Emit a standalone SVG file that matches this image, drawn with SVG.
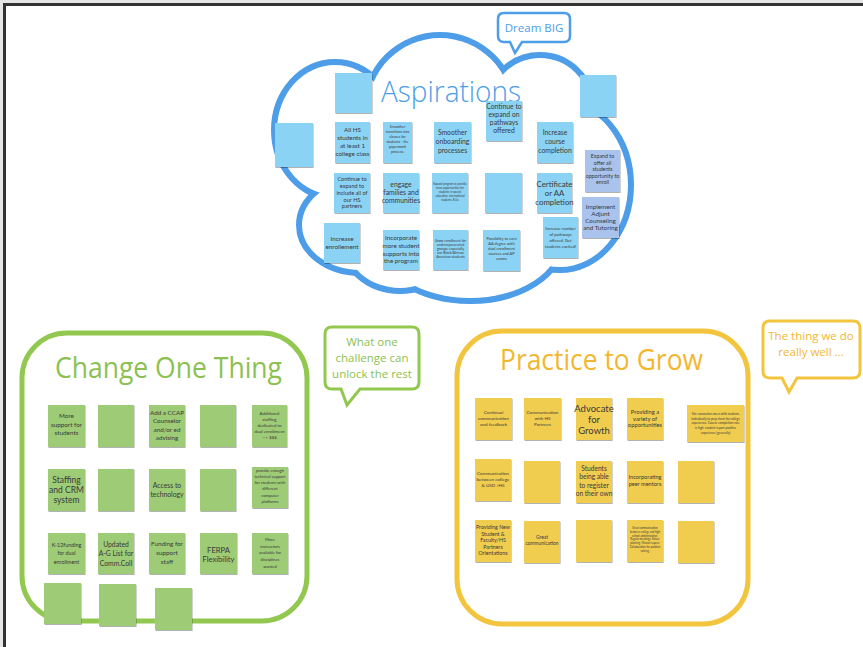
<svg xmlns="http://www.w3.org/2000/svg" width="863" height="647" viewBox="0 0 863 647">
<defs>
<filter id="sh" x="-20%" y="-20%" width="150%" height="150%"><feDropShadow dx="0.6" dy="1" stdDeviation="0.7" flood-color="#000" flood-opacity="0.3"/></filter>
<style>
.nb{fill:#8bd3f4;filter:url(#sh)}
.nl{fill:#a9c3ec;filter:url(#sh)}
.ng{fill:#9dcb76;filter:url(#sh)}
.ny{fill:#f1cd50;filter:url(#sh)}
.t{font-family:Lato,"Open Sans",sans-serif;fill:#3a3a3a;text-anchor:middle}
.cs{fill:none;stroke:#4d9de8;stroke-width:12}
.cf{fill:#fff}
.title{font-family:"Open Sans",sans-serif;font-weight:400;text-anchor:start}
.co{font-family:"Open Sans",sans-serif;text-anchor:middle;font-size:11.5px}
</style>
</defs>
<rect x="0" y="0" width="863" height="647" fill="#e6e6e6"/>
<rect x="6" y="6" width="857" height="641" fill="#fff"/>
<path d="M4.5,647 V4.5 H863" fill="none" stroke="#333" stroke-width="3"/>

<g id="cloud">
<g class="cs">
<ellipse cx="335" cy="130" rx="58" ry="65"/>
<ellipse cx="360" cy="225" rx="58" ry="45"/>
<circle cx="440" cy="110" r="72"/>
<circle cx="540" cy="108" r="50"/>
<ellipse cx="560" cy="185" rx="68" ry="82"/>
<ellipse cx="470" cy="240" rx="90" ry="58"/>
<ellipse cx="400" cy="240" rx="55" ry="48"/>
</g>
<g class="cf">
<ellipse cx="335" cy="130" rx="58" ry="65"/>
<ellipse cx="360" cy="225" rx="58" ry="45"/>
<circle cx="440" cy="110" r="72"/>
<circle cx="540" cy="108" r="50"/>
<ellipse cx="560" cy="185" rx="68" ry="82"/>
<ellipse cx="470" cy="240" rx="90" ry="58"/>
<ellipse cx="400" cy="240" rx="55" ry="48"/>
<rect x="330" y="110" width="250" height="140"/>
</g>
<text class="title" x="381" y="102" font-size="30" fill="#4d9de8" style="font-weight:300" textLength="140" lengthAdjust="spacingAndGlyphs">Aspirations</text>
</g>

<g id="dream-big">
<path d="M504,13 H564 Q570,13 570,19 V36 Q570,42 564,42 H522 L515,53 L510,42 H504 Q498,42 498,36 V19 Q498,13 504,13 Z" fill="#fff" stroke="#4d9de8" stroke-width="2.5"/>
<text class="co" x="534" y="32" fill="#4d9de8">Dream BIG</text>
</g>

<g id="blue-notes">
<g id="b1"><rect class="nb" x="335" y="73" width="37" height="40"/></g>
<g id="b2"><rect class="nb" x="275" y="123" width="38" height="44"/></g>
<g id="b3"><rect class="nb" x="580" y="75" width="36" height="42"/></g>
<g id="b4"><rect class="nb" x="335" y="122" width="35" height="41"/>
<text class="t" font-size="6.3"><tspan x="352.5" y="132">All HS</tspan><tspan x="352.5" y="140">students in</tspan><tspan x="352.5" y="148">at least 1</tspan><tspan x="352.5" y="155.5">college class</tspan></text></g>
<g id="b5"><rect class="nb" x="383" y="122" width="29" height="41"/>
<text class="t" font-size="3.6"><tspan x="397.5" y="128">Smoother</tspan><tspan x="397.5" y="133">transitions into</tspan><tspan x="397.5" y="138">classes for</tspan><tspan x="397.5" y="143">students - the</tspan><tspan x="397.5" y="148">paperwork</tspan><tspan x="397.5" y="153">process.</tspan></text></g>
<g id="b6"><rect class="nb" x="434" y="122" width="37" height="41"/>
<text class="t" font-size="6.8"><tspan x="452.5" y="135">Smoother</tspan><tspan x="452.5" y="144">onboarding</tspan><tspan x="452.5" y="152.5">processes</tspan></text></g>
<g id="b7"><rect class="nb" x="486" y="101" width="36" height="40"/>
<text class="t" font-size="6.8"><tspan x="504" y="109">Continue to</tspan><tspan x="504" y="117">expand on</tspan><tspan x="504" y="125">pathways</tspan><tspan x="504" y="133">offered</tspan></text></g>
<g id="b8"><rect class="nb" x="537" y="122" width="36" height="41"/>
<text class="t" font-size="6.8"><tspan x="555" y="135">Increase</tspan><tspan x="555" y="144">course</tspan><tspan x="555" y="152.5">completion</tspan></text></g>
<g id="b9"><rect class="nb" x="334" y="173" width="36" height="40"/>
<text class="t" font-size="5.6"><tspan x="352" y="181">Continue to</tspan><tspan x="352" y="188">expand to</tspan><tspan x="352" y="195">include all of</tspan><tspan x="352" y="201.5">our HS</tspan><tspan x="352" y="208">partners</tspan></text></g>
<g id="b10"><rect class="nb" x="383" y="173" width="36" height="40"/>
<text class="t" font-size="6.8"><tspan x="401" y="187">engage</tspan><tspan x="401" y="195">families and</tspan><tspan x="401" y="202.5">communities</tspan></text></g>
<g id="b11"><rect class="nb" x="432" y="173" width="36" height="40"/>
<text class="t" font-size="2.8"><tspan x="450" y="185">Expand program to provide</tspan><tspan x="450" y="189">more opportunities for</tspan><tspan x="450" y="193">students in special</tspan><tspan x="450" y="197">education, international</tspan><tspan x="450" y="201">students, ELLs</tspan></text></g>
<g id="b12"><rect class="nb" x="485" y="173" width="37" height="40"/></g>
<g id="b13"><rect class="nb" x="537" y="173" width="35" height="40"/>
<text class="t" font-size="7.8"><tspan x="554.5" y="187">Certificate</tspan><tspan x="554.5" y="196">or AA</tspan><tspan x="554.5" y="205">completion</tspan></text></g>
<g id="l1"><rect class="nl" x="585" y="150" width="35" height="42"/>
<text class="t" font-size="5.3"><tspan x="602.5" y="158">Expand to</tspan><tspan x="602.5" y="164.5">offer all</tspan><tspan x="602.5" y="171">students</tspan><tspan x="602.5" y="177.5">opportunity to</tspan><tspan x="602.5" y="184">enroll</tspan></text></g>
<g id="l2"><rect class="nl" x="582" y="197" width="37" height="41"/>
<text class="t" font-size="6.3"><tspan x="600.5" y="209">Implement</tspan><tspan x="600.5" y="216">Adjunt</tspan><tspan x="600.5" y="223">Counseling</tspan><tspan x="600.5" y="230">and Tutoring</tspan></text></g>
<g id="b14"><rect class="nb" x="324" y="223" width="36" height="40"/>
<text class="t" font-size="6.3"><tspan x="342" y="241">Increase</tspan><tspan x="342" y="249">enrollement</tspan></text></g>
<g id="b15"><rect class="nb" x="383" y="230" width="36" height="40"/>
<text class="t" font-size="6.3"><tspan x="401" y="240">Incorporate</tspan><tspan x="401" y="248">more student</tspan><tspan x="401" y="255.5">supports into</tspan><tspan x="401" y="263">the program</tspan></text></g>
<g id="b16"><rect class="nb" x="433" y="230" width="35" height="40"/>
<text class="t" font-size="3.5"><tspan x="450.5" y="241.5">Grow enrollment for</tspan><tspan x="450.5" y="245.7">underrepresented</tspan><tspan x="450.5" y="249.9">groups, especially</tspan><tspan x="450.5" y="254.1">our Black/African</tspan><tspan x="450.5" y="258.3">American students</tspan></text></g>
<g id="b17"><rect class="nb" x="483" y="230" width="37" height="41"/>
<text class="t" font-size="3.9"><tspan x="501.5" y="239.5">Possibility to earn</tspan><tspan x="501.5" y="244.5">AA degree with</tspan><tspan x="501.5" y="249.5">dual enrollment</tspan><tspan x="501.5" y="254.5">courses and AP</tspan><tspan x="501.5" y="259.5">exams</tspan></text></g>
<g id="b18"><rect class="nb" x="543" y="217" width="35" height="41"/>
<text class="t" font-size="4.2"><tspan x="560.5" y="229.5">Increase number</tspan><tspan x="560.5" y="235.5">of pathways</tspan><tspan x="560.5" y="241.5">offered. Get</tspan><tspan x="560.5" y="247.5">students excited!</tspan></text></g>
</g>

<g id="change-one-thing">
<rect x="22" y="333" width="285" height="288" rx="45" fill="none" stroke="#92c84f" stroke-width="5"/>
<text class="title" x="55" y="378" font-size="30" fill="#8cc152" textLength="227" lengthAdjust="spacingAndGlyphs">Change One Thing</text>
</g>
<g id="callout-green">
<path d="M332,327 H412 Q419,327 419,334 V382 Q419,389 412,389 H360 L347,405 L341,389 H332 Q325,389 325,382 V334 Q325,327 332,327 Z" fill="#fff" stroke="#92c84f" stroke-width="3"/>
<text class="co" fill="#8cc152"><tspan x="372" y="346">What one</tspan><tspan x="372" y="362">challenge can</tspan><tspan x="372" y="378">unlock the rest</tspan></text>
</g>

<g id="green-notes">
<g id="g1"><rect class="ng" x="48" y="405" width="37" height="42"/>
<text class="t" font-size="6.3"><tspan x="66.5" y="418">More</tspan><tspan x="66.5" y="427">support for</tspan><tspan x="66.5" y="435">students</tspan></text></g>
<g id="g2"><rect class="ng" x="98" y="405" width="36" height="42"/></g>
<g id="g3"><rect class="ng" x="149" y="405" width="36" height="42"/>
<text class="t" font-size="6.3"><tspan x="167" y="414.5">Add a CCAP</tspan><tspan x="167" y="423">Counselor</tspan><tspan x="167" y="431.5">and/or ed</tspan><tspan x="167" y="440">advising</tspan></text></g>
<g id="g4"><rect class="ng" x="200" y="405" width="36" height="42"/></g>
<g id="g5"><rect class="ng" x="252" y="405" width="35" height="42"/>
<text class="t" font-size="4.4"><tspan x="269.5" y="414.5">Additional</tspan><tspan x="269.5" y="420.5">staffing</tspan><tspan x="269.5" y="426.5">dedicated to</tspan><tspan x="269.5" y="432.5">dual enrollment</tspan><tspan x="269.5" y="438.5">--&gt; $$$</tspan></text></g>
<g id="g6"><rect class="ng" x="48" y="469" width="37" height="42"/>
<text class="t" font-size="8.5"><tspan x="66.5" y="482.5">Staffing</tspan><tspan x="66.5" y="492.5">and CRM</tspan><tspan x="66.5" y="502.5">system</tspan></text></g>
<g id="g7"><rect class="ng" x="98" y="469" width="36" height="42"/></g>
<g id="g8"><rect class="ng" x="149" y="469" width="36" height="42"/>
<text class="t" font-size="6.8"><tspan x="167" y="487.5">Access to</tspan><tspan x="167" y="496.5">technology</tspan></text></g>
<g id="g9"><rect class="ng" x="200" y="469" width="36" height="42"/></g>
<g id="g10"><rect class="ng" x="252" y="467" width="36" height="41"/>
<text class="t" font-size="4.1"><tspan x="270" y="471.5">provide enough</tspan><tspan x="270" y="477.5">technical support</tspan><tspan x="270" y="484">for students with</tspan><tspan x="270" y="490">different</tspan><tspan x="270" y="496.5">computer</tspan><tspan x="270" y="503">platforms</tspan></text></g>
<g id="g11"><rect class="ng" x="48" y="533" width="37" height="41"/>
<text class="t" font-size="5.4"><tspan x="66.5" y="547">K-12funding</tspan><tspan x="66.5" y="555">for dual</tspan><tspan x="66.5" y="563.5">enrollment</tspan></text></g>
<g id="g12"><rect class="ng" x="98" y="533" width="36" height="41"/>
<text class="t" font-size="6.8"><tspan x="116" y="546.5">Updated</tspan><tspan x="116" y="556">A-G List for</tspan><tspan x="116" y="565.5">Comm.Coll</tspan></text></g>
<g id="g13"><rect class="ng" x="149" y="533" width="36" height="41"/>
<text class="t" font-size="6.3"><tspan x="167" y="546">Funding for</tspan><tspan x="167" y="555">support</tspan><tspan x="167" y="563.5">staff</tspan></text></g>
<g id="g14"><rect class="ng" x="200" y="533" width="37" height="41"/>
<text class="t" font-size="7.6"><tspan x="218.5" y="553">FERPA</tspan><tspan x="218.5" y="561.5">Flexibility</tspan></text></g>
<g id="g15"><rect class="ng" x="252" y="533" width="36" height="41"/>
<text class="t" font-size="4.2"><tspan x="270" y="540.5">More</tspan><tspan x="270" y="547.5">instructors</tspan><tspan x="270" y="554">available for</tspan><tspan x="270" y="560.5">disciplines</tspan><tspan x="270" y="567.5">wanted</tspan></text></g>
<g id="g16"><rect class="ng" x="44" y="583" width="37" height="41"/></g>
<g id="g17"><rect class="ng" x="99" y="584" width="37" height="42"/></g>
<g id="g18"><rect class="ng" x="155" y="588" width="37" height="42"/></g>
</g>

<g id="practice-to-grow">
<rect x="457" y="331" width="291" height="293" rx="45" fill="none" stroke="#f3c53f" stroke-width="5"/>
<text class="title" x="500" y="370" font-size="29" fill="#f2b731" textLength="203" lengthAdjust="spacingAndGlyphs">Practice to Grow</text>
</g>
<g id="callout-yellow">
<path d="M770,321 H853 Q860,321 860,328 V371 Q860,378 853,378 H797 L789,392 L782,378 H770 Q763,378 763,371 V328 Q763,321 770,321 Z" fill="#fff" stroke="#f3c53f" stroke-width="3"/>
<text class="co" fill="#f2b731"><tspan x="811" y="340">The thing we do</tspan><tspan x="811" y="356">really well ...</tspan></text>
</g>

<g id="yellow-notes">
<g id="y1"><rect class="ny" x="475" y="398" width="37" height="42"/>
<text class="t" font-size="4.6"><tspan x="493.5" y="413.5">Continual</tspan><tspan x="493.5" y="419.5">communication</tspan><tspan x="493.5" y="425.5">and feedback</tspan></text></g>
<g id="y2"><rect class="ny" x="524" y="398" width="37" height="42"/>
<text class="t" font-size="4.6"><tspan x="542.5" y="413.5">Communication</tspan><tspan x="542.5" y="419.5">with HS</tspan><tspan x="542.5" y="425.5">Partners</tspan></text></g>
<g id="y3"><rect class="ny" x="576" y="398" width="36" height="42"/>
<text class="t" font-size="9.5"><tspan x="594" y="412">Advocate</tspan><tspan x="594" y="423">for</tspan><tspan x="594" y="434">Growth</tspan></text></g>
<g id="y4"><rect class="ny" x="627" y="398" width="36" height="42"/>
<text class="t" font-size="5.8"><tspan x="645" y="414">Providing a</tspan><tspan x="645" y="420.5">variety of</tspan><tspan x="645" y="427">opportunities</tspan></text></g>
<g id="y5"><rect class="ny" x="687" y="405" width="57" height="37"/>
<text class="t" font-size="3.1"><tspan x="715.5" y="415">Site counselors meet with students</tspan><tspan x="715.5" y="419.7">individually to prep them for college</tspan><tspan x="715.5" y="424.4">experience. Course completion rate</tspan><tspan x="715.5" y="429.1">is high, student report positive</tspan><tspan x="715.5" y="433.8">experience (generally)</tspan></text></g>
<g id="y6"><rect class="ny" x="475" y="459" width="36" height="42"/>
<text class="t" font-size="4.6"><tspan x="493" y="474.5">Communication</tspan><tspan x="493" y="480.5">between college</tspan><tspan x="493" y="486.5">&amp; USD /HS</tspan></text></g>
<g id="y7"><rect class="ny" x="524" y="461" width="36" height="42"/></g>
<g id="y8"><rect class="ny" x="576" y="461" width="36" height="42"/>
<text class="t" font-size="6.6"><tspan x="594" y="470.5">Students</tspan><tspan x="594" y="479">being able</tspan><tspan x="594" y="487.5">to register</tspan><tspan x="594" y="496">on their own</tspan></text></g>
<g id="y9"><rect class="ny" x="627" y="461" width="36" height="42"/>
<text class="t" font-size="5.6"><tspan x="645" y="479">Incorporating</tspan><tspan x="645" y="486">peer mentors</tspan></text></g>
<g id="y10"><rect class="ny" x="678" y="461" width="36" height="42"/></g>
<g id="y11"><rect class="ny" x="475" y="520" width="36" height="42"/>
<text class="t" font-size="5.3"><tspan x="493" y="529">Providing New</tspan><tspan x="493" y="535.5">Student &amp;</tspan><tspan x="493" y="542">Faculty/HS</tspan><tspan x="493" y="548.5">Partners</tspan><tspan x="493" y="555">Orientations</tspan></text></g>
<g id="y12"><rect class="ny" x="524" y="521" width="36" height="42"/>
<text class="t" font-size="4.9"><tspan x="542" y="538.5">Great</tspan><tspan x="542" y="545">communication</tspan></text></g>
<g id="y13"><rect class="ny" x="576" y="520" width="36" height="42"/></g>
<g id="y14"><rect class="ny" x="627" y="520" width="36" height="42"/>
<text class="t" font-size="2.7"><tspan x="645" y="529">Great communication</tspan><tspan x="645" y="532.8">between college and high</tspan><tspan x="645" y="536.6">school administration.</tspan><tspan x="645" y="540.4">Regular meetings. Future</tspan><tspan x="645" y="544.2">planning. Mutual respect.</tspan><tspan x="645" y="548">Collaboration for problem</tspan><tspan x="645" y="551.8">solving.</tspan></text></g>
<g id="y15"><rect class="ny" x="678" y="521" width="36" height="42"/></g>
</g>
<g id="connectors"/>
</svg>
